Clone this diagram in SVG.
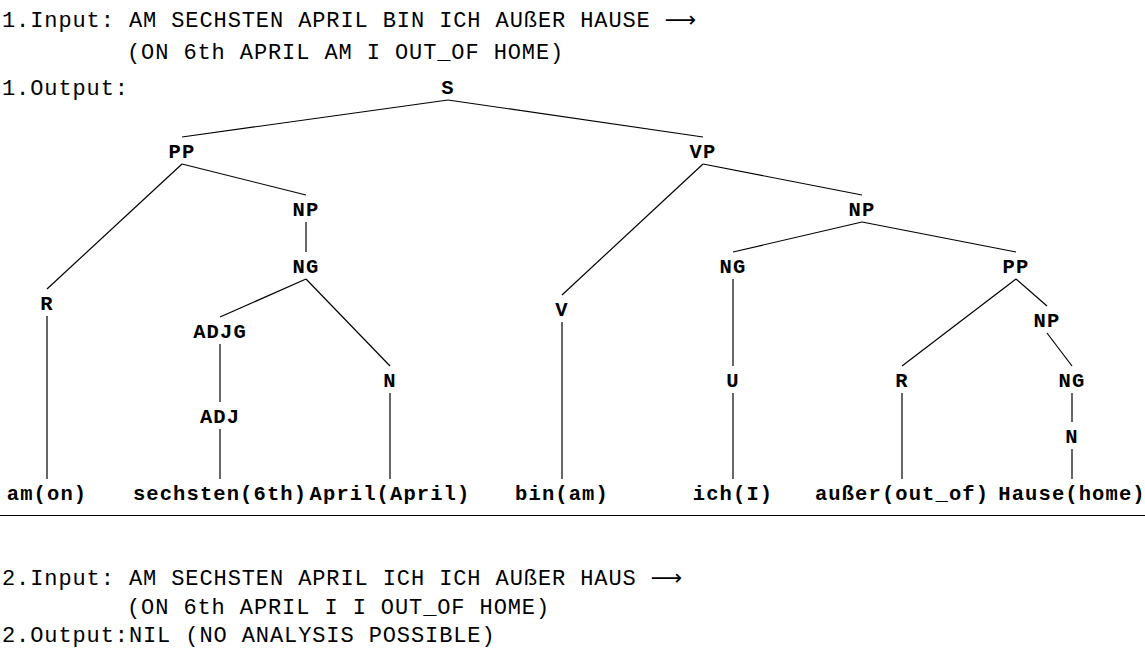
<svg xmlns="http://www.w3.org/2000/svg" width="1145" height="649" viewBox="0 0 1145 649">
<style>
.hdr{font-family:"Liberation Mono","DejaVu Sans Mono",monospace;font-size:22px;letter-spacing:0.9px;fill:#000}
.arr{font-family:"DejaVu Sans",sans-serif;letter-spacing:0}
.lbl{font-family:"Liberation Mono","Courier New",monospace;font-weight:bold;font-size:20.5px;letter-spacing:1.1px;fill:#000;text-anchor:middle}
.edge line{stroke:#000;stroke-width:1.2}
</style>
<rect width="1145" height="649" fill="#fff"/>
<g id="header1">
<text class="hdr" x="2" y="27">1.Input: AM SECHSTEN APRIL BIN ICH AUßER HAUSE <tspan class="arr">⟶</tspan></text>
<text class="hdr" x="127" y="59">(ON 6th APRIL AM I OUT_OF HOME)</text>
<text class="hdr" x="2" y="95">1.Output:</text>
</g>
<g id="connectors" class="edge">
<line x1="448" y1="100" x2="182" y2="137"/>
<line x1="448" y1="100" x2="703" y2="137"/>
<line x1="182" y1="164" x2="47" y2="289"/>
<line x1="182" y1="164" x2="306" y2="195"/>
<line x1="306" y1="222" x2="306" y2="252"/>
<line x1="306" y1="279" x2="220" y2="317"/>
<line x1="306" y1="279" x2="390" y2="366"/>
<line x1="220" y1="344" x2="220" y2="402"/>
<line x1="220" y1="429" x2="220" y2="479"/>
<line x1="390" y1="393" x2="390" y2="479"/>
<line x1="47" y1="316" x2="47" y2="479"/>
<line x1="703" y1="164" x2="562" y2="295"/>
<line x1="703" y1="164" x2="862" y2="195"/>
<line x1="562" y1="322" x2="562" y2="479"/>
<line x1="862" y1="222" x2="733" y2="252"/>
<line x1="862" y1="222" x2="1016" y2="252"/>
<line x1="733" y1="279" x2="733" y2="366"/>
<line x1="733" y1="393" x2="733" y2="479"/>
<line x1="1016" y1="279" x2="902" y2="366"/>
<line x1="1016" y1="279" x2="1047" y2="306"/>
<line x1="902" y1="393" x2="902" y2="479"/>
<line x1="1047" y1="333" x2="1072" y2="366"/>
<line x1="1072" y1="393" x2="1072" y2="422"/>
<line x1="1072" y1="449" x2="1072" y2="479"/>
</g>
<g id="n-S"><text class="lbl" x="448" y="94">S</text></g>
<g id="n-PP1"><text class="lbl" x="182" y="158">PP</text></g>
<g id="n-VP"><text class="lbl" x="703" y="158">VP</text></g>
<g id="n-R1"><text class="lbl" x="47" y="310">R</text></g>
<g id="n-NP1"><text class="lbl" x="306" y="216">NP</text></g>
<g id="n-NG1"><text class="lbl" x="306" y="273">NG</text></g>
<g id="n-ADJG"><text class="lbl" x="220" y="338">ADJG</text></g>
<g id="n-N1"><text class="lbl" x="390" y="387">N</text></g>
<g id="n-ADJ"><text class="lbl" x="220" y="423">ADJ</text></g>
<g id="n-V"><text class="lbl" x="562" y="316">V</text></g>
<g id="n-NP2"><text class="lbl" x="862" y="216">NP</text></g>
<g id="n-NG2"><text class="lbl" x="733" y="273">NG</text></g>
<g id="n-PP2"><text class="lbl" x="1016" y="273">PP</text></g>
<g id="n-U"><text class="lbl" x="733" y="387">U</text></g>
<g id="n-R2"><text class="lbl" x="902" y="387">R</text></g>
<g id="n-NP3"><text class="lbl" x="1047" y="327">NP</text></g>
<g id="n-NG3"><text class="lbl" x="1072" y="387">NG</text></g>
<g id="n-N3"><text class="lbl" x="1072" y="443">N</text></g>
<g id="leaf-1"><text class="lbl" x="47" y="500">am(on)</text></g>
<g id="leaf-2"><text class="lbl" x="220" y="500">sechsten(6th)</text></g>
<g id="leaf-3"><text class="lbl" x="390" y="500">April(April)</text></g>
<g id="leaf-4"><text class="lbl" x="562" y="500">bin(am)</text></g>
<g id="leaf-5"><text class="lbl" x="733" y="500">ich(I)</text></g>
<g id="leaf-6"><text class="lbl" x="902" y="500">außer(out_of)</text></g>
<g id="leaf-7"><text class="lbl" x="1072" y="500">Hause(home)</text></g>
<line x1="0" y1="515.5" x2="1145" y2="515.5" stroke="#000" stroke-width="1.2"/>
<g id="header2">
<text class="hdr" x="2" y="585">2.Input: AM SECHSTEN APRIL ICH ICH AUßER HAUS <tspan class="arr">⟶</tspan></text>
<text class="hdr" x="127" y="614">(ON 6th APRIL I I OUT_OF HOME)</text>
<text class="hdr" x="2" y="642">2.Output:NIL (NO ANALYSIS POSSIBLE)</text>
</g>
</svg>
